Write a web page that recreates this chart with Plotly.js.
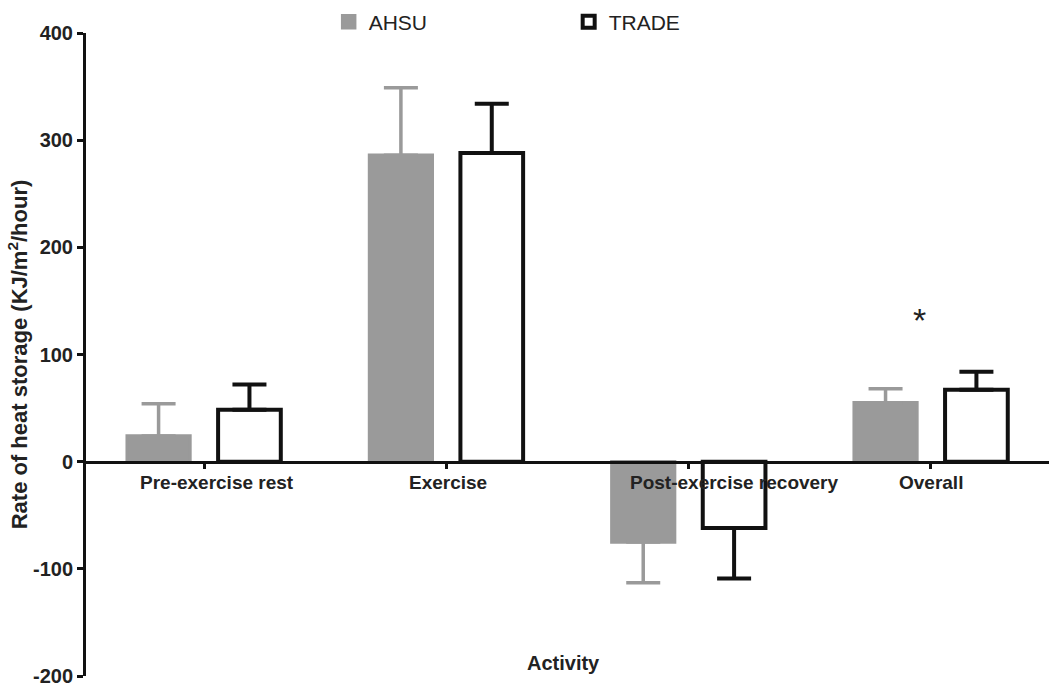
<!DOCTYPE html>
<html>
<head>
<meta charset="utf-8">
<script src="https://cdn.plot.ly/plotly-3.0.1.min.js"></script>
<style>
  html, body { margin: 0; padding: 0; background: #ffffff; }
  #chart { width: 1049px; height: 688px; }
</style>
</head>
<body>
<div id="chart"></div>
<script>
// ---- data ----
var categories = ["Pre-exercise rest", "Exercise", "Post-exercise recovery", "Overall"];
var ahsuValues = [24, 286, -75, 55];
var ahsuErrUp = [30, 63, 0, 13];
var ahsuErrDown = [0, 0, 38, 0];
var tradeValues = [48.5, 288, -62, 67];
var tradeErrUp = [23.5, 46, 0, 17];
var tradeErrDown = [0, 0, 47, 0];
var yTicks = [-200, -100, 0, 100, 200, 300, 400];
var yRange = [-200, 400];
var significance = {category: "Overall", value: 136, label: "*"};
var labelShifts = [13, 2, 46, 0];

var FONT = "Liberation Sans, Arial, sans-serif";
var GRAY = "#9a9a9a";

var traces = [
  {
    type: "bar", name: "AHSU", x: categories, y: ahsuValues,
    marker: {color: GRAY, line: {color: GRAY, width: 3.5}},
    error_y: {type: "data", symmetric: false, array: ahsuErrUp, arrayminus: ahsuErrDown,
              color: GRAY, thickness: 3.5, width: 17},
    hoverinfo: "skip"
  },
  {
    type: "bar", name: "TRADE", x: categories, y: tradeValues,
    marker: {color: "#ffffff", line: {color: "#111111", width: 4}},
    error_y: {type: "data", symmetric: false, array: tradeErrUp, arrayminus: tradeErrDown,
              color: "#111111", thickness: 4, width: 17},
    hoverinfo: "skip"
  }
];

var annotations = categories.map(function (c, i) {
  return {
    x: c, y: 0, xref: "x", yref: "y", text: "<b>" + c + "</b>",
    showarrow: false, yanchor: "top", xanchor: "center", yshift: -8, xshift: labelShifts[i],
    font: {family: FONT, size: 19, color: "#222222"}
  };
});
annotations.push({
  x: 0.496, xref: "paper", y: -187.5, yref: "y", text: "<b>Activity</b>",
  showarrow: false, xanchor: "center", yanchor: "middle",
  font: {family: FONT, size: 20, color: "#222222"}
});
annotations.push({
  x: significance.category, xref: "x", y: significance.value, yref: "y",
  text: significance.label, showarrow: false, xanchor: "center", yanchor: "middle",
  xshift: -11, yshift: -4, font: {family: FONT, size: 34, color: "#222222"}
});

var zeroPos = (0 - yRange[0]) / (yRange[1] - yRange[0]);

var layout = {
  width: 1049, height: 688,
  margin: {l: 86, r: 0, t: 33, b: 12, pad: 0, autoexpand: false},
  paper_bgcolor: "#ffffff", plot_bgcolor: "#ffffff",
  barmode: "group", bargap: 0.25, bargroupgap: 0.31,
  showlegend: true,
  legend: {
    orientation: "h", x: 0.252, xanchor: "left", y: 0.968, yref: "container", yanchor: "middle",
    font: {family: FONT, size: 21, color: "#222222"},
    entrywidth: 195, entrywidthmode: "pixels", traceorder: "normal"
  },
  xaxis: {
    type: "category", range: [-0.487, 3.487],
    anchor: "free", position: zeroPos,
    showline: true, linecolor: "#111111", linewidth: 3,
    ticks: "outside", ticklen: 5, tickwidth: 3, tickcolor: "#111111",
    showticklabels: false, showgrid: false, zeroline: false, fixedrange: true
  },
  yaxis: {
    range: yRange, tickvals: yTicks, ticktext: yTicks.map(String),
    showline: true, linecolor: "#111111", linewidth: 3,
    ticks: "outside", ticklen: 6, tickwidth: 3, tickcolor: "#111111",
    tickfont: {family: FONT, size: 20, color: "#222222", weight: "bold"},
    showgrid: false, zeroline: false, automargin: false,
    title: {text: "<b>Rate of heat storage (KJ/m<sup>2</sup>/hour)</b>", standoff: 0,
            font: {family: FONT, size: 22, color: "#222222"}}
  },
  annotations: annotations
};

Plotly.newPlot("chart", traces, layout, {displayModeBar: false, staticPlot: true});
</script>
</body>
</html>
